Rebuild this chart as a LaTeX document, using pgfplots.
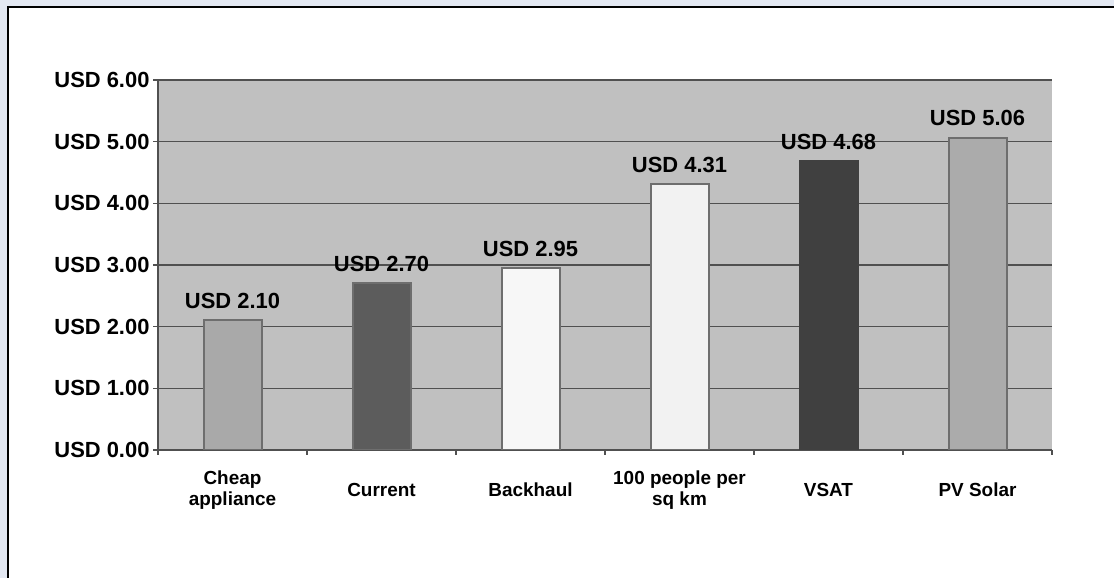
\documentclass[border=0pt]{standalone}
\usepackage{fontspec}
\setmainfont{Liberation Sans}
\usepackage{pgfplots}
\pgfplotsset{compat=1.18}

\definecolor{outerbg}{HTML}{E3E8F2}
\definecolor{plotbg}{HTML}{C0C0C0}
\definecolor{gridgray}{HTML}{505050}
\definecolor{axisgray}{HTML}{505050}
\definecolor{barline}{HTML}{6E6E6E}
\definecolor{cA}{HTML}{A9A9A9}
\definecolor{cB}{HTML}{5C5C5C}
\definecolor{cC}{HTML}{F7F7F7}
\definecolor{cD}{HTML}{F2F2F2}
\definecolor{cE}{HTML}{404040}
\definecolor{cF}{HTML}{ABABAB}

\begin{document}
\begin{tikzpicture}
\useasboundingbox (0,0) rectangle (1114bp,578bp);
\clip (0,0) rectangle (1114bp,578bp);
\fill[outerbg] (0,0) rectangle (1114bp,578bp);
\draw[line width=1.5bp, fill=white] (8bp,-20bp) rectangle (1140bp,571bp);
\begin{axis}[
  at={(158bp,128bp)}, anchor=south west,
  scale only axis, width=894bp, height=370bp,
  xmin=0.5, xmax=6.5, ymin=0, ymax=6,
  axis lines*=left,
  axis line style={draw=axisgray, line width=1.5bp},
  axis background/.style={fill=plotbg},
  ymajorgrids, grid style={draw=gridgray, line width=1.6bp},
  ytick={0,...,6},
  yticklabels={USD 0.00,USD 1.00,USD 2.00,USD 3.00,USD 4.00,USD 5.00,USD 6.00},
  yticklabel style={font=\fontsize{22}{25}\selectfont\bfseries},
  xtick={1,...,6},
  xticklabels={{Cheap\\appliance},Current,Backhaul,{100 people per\\sq km},VSAT,PV Solar},
  xticklabel style={align=center, font=\fontsize{19}{21}\selectfont\bfseries, anchor=center, yshift=-35bp},
  minor xtick={0.5,1.5,...,6.5},
  tick align=outside, major tick length=5bp, minor tick length=5bp,
  tick style={draw=axisgray, line width=1.2bp},
  every major x tick/.append style={draw=none},
  /pgf/number format/assume math mode=true,
  ybar, bar width=58bp,
  nodes near coords={USD \pgfmathprintnumber[fixed,fixed zerofill,precision=2]{\pgfplotspointmeta}},
  every node near coord/.append style={font=\fontsize{22}{25}\selectfont\bfseries, anchor=base, yshift=12bp, inner sep=0pt},
]
\addplot[fill=cA, draw=barline, line width=2bp, bar shift=0pt] coordinates {(1,2.10)};
\addplot[fill=cB, draw=barline, line width=2bp, bar shift=0pt] coordinates {(2,2.70)};
\addplot[fill=cC, draw=barline, line width=2bp, bar shift=0pt] coordinates {(3,2.95)};
\addplot[fill=cD, draw=barline, line width=2bp, bar shift=0pt] coordinates {(4,4.31)};
\addplot[fill=cE, draw=cE, line width=2bp, bar shift=0pt] coordinates {(5,4.68)};
\addplot[fill=cF, draw=barline, line width=2bp, bar shift=0pt] coordinates {(6,5.06)};
\end{axis}
\end{tikzpicture}
\end{document}
